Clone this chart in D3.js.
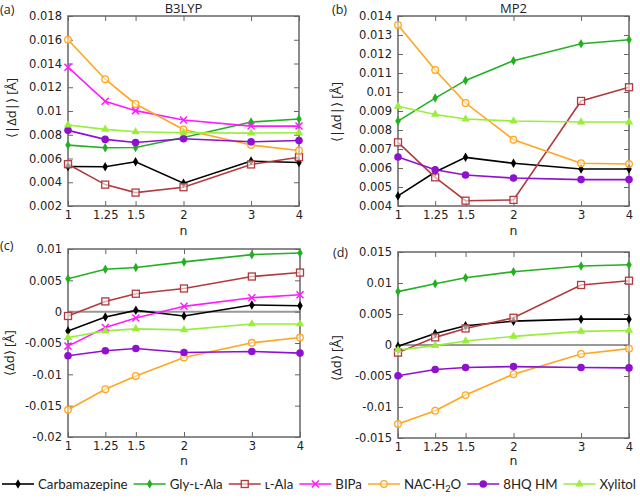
<!DOCTYPE html>
<html><head><meta charset="utf-8">
<script src="https://cdn.jsdelivr.net/npm/d3@7"></script>
<style>
html,body{margin:0;padding:0;background:#fff;}
svg{display:block;}
</style></head>
<body>
<svg id="c" width="640" height="500"></svg>
<script>
const nValues = [1, 1.25, 1.5, 2, 3, 4];
const nTickLabels = ["1", "1.25", "1.5", "2", "3", "4"];
const seriesNames = ["Carbamazepine", "Gly-ʟ-Ala", "ʟ-Ala", "BIPa", "NAC·H2O", "8HQ HM", "Xylitol"];

// (a) B3LYP <|Δd|>
const aCarb = [0.00532, 0.0053, 0.00572, 0.00392, 0.00578, 0.00566];
const aGly  = [0.00713, 0.0069, 0.00693, 0.00777, 0.00907, 0.00932];
const aLAla = [0.00552, 0.0038, 0.00313, 0.00358, 0.0055, 0.00611];
const aBIPa = [0.01369, 0.01082, 0.01003, 0.00924, 0.00873, 0.00873];
const aNAC  = [0.016, 0.01268, 0.01059, 0.00845, 0.00713, 0.00668];
const a8HQ  = [0.00837, 0.00761, 0.00735, 0.00766, 0.00741, 0.00752];
const aXyl  = [0.00882, 0.00845, 0.00825, 0.00817, 0.00814, 0.00817];

// (b) MP2 <|Δd|>
const bCarb = [0.00453, 0.00579, 0.00656, 0.00625, 0.00595, 0.00595];
const bGly  = [0.00847, 0.00968, 0.01061, 0.01165, 0.01254, 0.01275];
const bLAla = [0.00735, 0.00551, 0.00428, 0.00432, 0.00953, 0.01025];
const bNAC  = [0.01353, 0.01116, 0.00942, 0.00749, 0.00625, 0.00621];
const b8HQ  = [0.00658, 0.00591, 0.00563, 0.00547, 0.00539, 0.00539];
const bXyl  = [0.00925, 0.00882, 0.00858, 0.00847, 0.00842, 0.00842];

// (c) B3LYP <Δd>
const cCarb = [-0.00307, -0.00085, 0.00021, -0.00069, 0.00106, 0.00095];
const cGly  = [0.00524, 0.00677, 0.00704, 0.00794, 0.0091, 0.00937];
const cLAla = [-0.00069, 0.00164, 0.00286, 0.0037, 0.00561, 0.00624];
const cBIPa = [-0.0055, -0.00254, -0.001, 0.00085, 0.00222, 0.0027];
const cNAC  = [-0.01566, -0.01238, -0.01026, -0.0073, -0.00497, -0.00413];
const c8HQ  = [-0.00704, -0.00624, -0.00587, -0.00651, -0.00635, -0.00661];
const cXyl  = [-0.00413, -0.00307, -0.00275, -0.00291, -0.00196, -0.00196];

// (d) MP2 <Δd>
const dCarb = [-0.0002, 0.00187, 0.0031, 0.00385, 0.00417, 0.00417];
const dGly  = [0.00861, 0.00989, 0.01086, 0.01182, 0.01273, 0.01294];
const dLAla = [-0.00123, 0.00123, 0.00267, 0.00439, 0.00968, 0.01037];
const dNAC  = [-0.01273, -0.01059, -0.00808, -0.00471, -0.00144, -0.00059];
const d8HQ  = [-0.00497, -0.00396, -0.00364, -0.00348, -0.00364, -0.00369];
const dXyl  = [-0.0008, -0.0001, 0.00064, 0.00139, 0.00219, 0.00235];

const aTicks = [0.002, 0.004, 0.006, 0.008, 0.01, 0.012, 0.014, 0.016, 0.018];
const aTickLabels = ["0.002","0.004","0.006","0.008","0.01","0.012","0.014","0.016","0.018"];
const bTicks = [0.004,0.005,0.006,0.007,0.008,0.009,0.01,0.011,0.012,0.013,0.014];
const bTickLabels = ["0.004","0.005","0.006","0.007","0.008","0.009","0.01","0.011","0.012","0.013","0.014"];
const cTicks = [-0.02,-0.015,-0.01,-0.005,0,0.005,0.01];
const cTickLabels = ["-0.02","-0.015","-0.01","-0.005","0","0.005","0.01"];
const dTicks = [-0.015,-0.01,-0.005,0,0.005,0.01,0.015];
const dTickLabels = ["-0.015","-0.01","-0.005","0","0.005","0.01","0.015"];

const colors = {
  "Carbamazepine": "#000000",
  "Gly-ʟ-Ala": "#22b022",
  "ʟ-Ala": "#b23a3e",
  "BIPa": "#ff1aff",
  "NAC·H2O": "#ffa620",
  "8HQ HM": "#9010d0",
  "Xylitol": "#99ee3a"
};

const svg = d3.select("#c");
const tickFont = "'DejaVu Sans', Verdana, sans-serif";
const labelFont = "'Open Sans', 'Noto Sans', sans-serif";
const legendFont = "Lato, 'Open Sans', sans-serif";

function marker(g, name, x, y) {
  const col = colors[name];
  if (name === "Carbamazepine" || name === "Gly-ʟ-Ala") {
    g.append("path").attr("d", d3.symbol(d3.symbolDiamond, 26)())
      .attr("transform", `translate(${x},${y})`).attr("fill", col);
  } else if (name === "ʟ-Ala") {
    g.append("rect").attr("x", x - 3.5).attr("y", y - 3.5).attr("width", 7).attr("height", 7)
      .attr("fill", "#fff").attr("fill-opacity", 0.6).attr("stroke", col).attr("stroke-width", 1.3);
  } else if (name === "BIPa") {
    g.append("path").attr("d", `M${x-3.5},${y-3.5}L${x+3.5},${y+3.5}M${x-3.5},${y+3.5}L${x+3.5},${y-3.5}`)
      .attr("stroke", col).attr("stroke-width", 1.5).attr("fill", "none");
  } else if (name === "NAC·H2O") {
    g.append("circle").attr("cx", x).attr("cy", y).attr("r", 3.3)
      .attr("fill", "#fff").attr("fill-opacity", 0.5).attr("stroke", col).attr("stroke-width", 1.3);
  } else if (name === "8HQ HM") {
    g.append("circle").attr("cx", x).attr("cy", y).attr("r", 3.8).attr("fill", col);
  } else if (name === "Xylitol") {
    g.append("path").attr("d", d3.symbol(d3.symbolTriangle, 30)())
      .attr("transform", `translate(${x},${y})`).attr("fill", col);
  }
}

function panel(cfg) {
  const {x0, x1, y0, y1, domain, ticks, tickLabels, data, title, tag, tagPos, ylabel, ylabelPos, zero, xTitleY} = cfg;
  const g = svg.append("g");
  const x = d3.scaleLog().domain([1, 4]).range([x0, x1]);
  const y = d3.scaleLinear().domain(domain).range([y1, y0]);

  if (zero) {
    g.append("line").attr("x1", x0).attr("x2", x1).attr("y1", y(0)).attr("y2", y(0))
      .attr("stroke", "#999").attr("stroke-width", 2);
  }

  const bottom = d3.axisBottom(x).tickValues(nValues).tickFormat((d, i) => nTickLabels[i]).tickSizeInner(-5).tickSizeOuter(0).tickPadding(5);
  const top = d3.axisTop(x).tickValues(nValues).tickFormat("").tickSizeInner(-5).tickSizeOuter(0);
  const left = d3.axisLeft(y).tickValues(ticks).tickFormat((d, i) => tickLabels[i]).tickSizeInner(-5).tickSizeOuter(0).tickPadding(6);
  const right = d3.axisRight(y).tickValues(ticks).tickFormat("").tickSizeInner(-5).tickSizeOuter(0);

  const axStyle = (sel) => {
    sel.select(".domain").remove();
    sel.selectAll("line").attr("stroke", "#666").attr("stroke-width", 1);
    sel.selectAll("text").attr("font-family", tickFont).attr("font-size", "11.5px").attr("fill", "#222");
  };
  g.append("g").attr("transform", `translate(0,${y1})`).call(bottom).call(axStyle);
  g.append("g").attr("transform", `translate(0,${y0})`).call(top).call(axStyle);
  g.append("g").attr("transform", `translate(${x0},0)`).call(left).call(axStyle);
  g.append("g").attr("transform", `translate(${x1},0)`).call(right).call(axStyle);

  g.append("rect").attr("x", x0).attr("y", y0).attr("width", x1 - x0).attr("height", y1 - y0)
    .attr("fill", "none").attr("stroke", "#666").attr("stroke-width", 1.5);

  const line = d3.line().x((d, i) => x(nValues[i])).y(d => y(d));
  data.forEach(([name, vals]) => {
    g.append("path").datum(vals).attr("d", line).attr("fill", "none")
      .attr("stroke", colors[name]).attr("stroke-width", 1.6);
  });
  data.forEach(([name, vals]) => {
    vals.forEach((v, i) => marker(g, name, x(nValues[i]), y(v)));
  });

  if (title) {
    g.append("text").attr("x", (x0 + x1) / 2).attr("y", 13).attr("text-anchor", "middle")
      .attr("font-family", labelFont).attr("font-size", "13px").attr("fill", "#222").text(title);
  }
  g.append("text").attr("x", tagPos[0]).attr("y", tagPos[1])
    .attr("font-family", labelFont).attr("font-size", "12.5px").attr("fill", "#222").text(tag);
  g.append("text").attr("x", (x0 + x1) / 2).attr("y", xTitleY).attr("text-anchor", "middle")
    .attr("font-family", tickFont).attr("font-size", "12.5px").attr("fill", "#222").text("n");
  g.append("text").attr("transform", `translate(${ylabelPos[0]},${ylabelPos[1]}) rotate(-90)`)
    .attr("text-anchor", "middle").attr("dy", "0.35em")
    .attr("font-family", labelFont).attr("font-size", "13px").attr("fill", "#222").text(ylabel);
}

panel({x0: 68, x1: 299, y0: 16, y1: 206, domain: [0.002, 0.018], ticks: aTicks, tickLabels: aTickLabels,
  data: [["Carbamazepine", aCarb], ["Gly-ʟ-Ala", aGly], ["ʟ-Ala", aLAla], ["BIPa", aBIPa], ["NAC·H2O", aNAC], ["8HQ HM", a8HQ], ["Xylitol", aXyl]],
  title: "B3LYP", tag: "(a)", tagPos: [0, 14], ylabel: "⟨|Δd|⟩ [Å]", ylabelPos: [11, 108], zero: false, xTitleY: 235});
panel({x0: 398, x1: 629, y0: 16, y1: 206, domain: [0.004, 0.014], ticks: bTicks, tickLabels: bTickLabels,
  data: [["Carbamazepine", bCarb], ["Gly-ʟ-Ala", bGly], ["ʟ-Ala", bLAla], ["NAC·H2O", bNAC], ["8HQ HM", b8HQ], ["Xylitol", bXyl]],
  title: "MP2", tag: "(b)", tagPos: [332, 14], ylabel: "⟨|Δd|⟩ [Å]", ylabelPos: [336, 112], zero: false, xTitleY: 235});
panel({x0: 68, x1: 300, y0: 249, y1: 437, domain: [-0.02, 0.01], ticks: cTicks, tickLabels: cTickLabels,
  data: [["Carbamazepine", cCarb], ["Gly-ʟ-Ala", cGly], ["ʟ-Ala", cLAla], ["BIPa", cBIPa], ["NAC·H2O", cNAC], ["8HQ HM", c8HQ], ["Xylitol", cXyl]],
  title: null, tag: "(c)", tagPos: [0, 250], ylabel: "⟨Δd⟩ [Å]", ylabelPos: [9, 353], zero: true, xTitleY: 465});
panel({x0: 398, x1: 629, y0: 252, y1: 438, domain: [-0.015, 0.015], ticks: dTicks, tickLabels: dTickLabels,
  data: [["Carbamazepine", dCarb], ["Gly-ʟ-Ala", dGly], ["ʟ-Ala", dLAla], ["NAC·H2O", dNAC], ["8HQ HM", d8HQ], ["Xylitol", dXyl]],
  title: null, tag: "(d)", tagPos: [333, 257], ylabel: "⟨Δd⟩ [Å]", ylabelPos: [336, 358], zero: true, xTitleY: 465});

// legend
const leg = svg.append("g");
const ly = 484;
function buildLegend(fs) {
  leg.selectAll("*").remove();
  const items = [];
  seriesNames.forEach(name => {
    const it = leg.append("g");
    it.append("line").attr("x1", 0).attr("x2", 32).attr("y1", ly).attr("y2", ly)
      .attr("stroke", colors[name]).attr("stroke-width", 1.6);
    marker(it, name, 16, ly);
    const t = it.append("text").attr("x", 36).attr("y", ly).attr("dy", "0.35em")
      .attr("font-family", legendFont).attr("font-size", fs + "px").attr("fill", "#222");
    if (name === "NAC·H2O") {
      t.append("tspan").text("NAC·H");
      t.append("tspan").attr("font-size", (fs * 0.7) + "px").attr("dy", "3").text("2");
      t.append("tspan").attr("dy", "-3").text("O");
    } else {
      t.text(name);
    }
    items.push({g: it, w: 36 + t.node().getBBox().width});
  });
  return items;
}
let fs = 14.5, items = buildLegend(fs);
while (d3.sum(items, d => d.w) + 6 * 6 > 636 && fs > 9) { fs -= 0.25; items = buildLegend(fs); }
const totalW = d3.sum(items, d => d.w);
const gap = (636 - 2 - totalW) / (items.length - 1);
let lx = 2;
items.forEach(d => { d.g.attr("transform", `translate(${lx},0)`); lx += d.w + gap; });
</script>
</body></html>
